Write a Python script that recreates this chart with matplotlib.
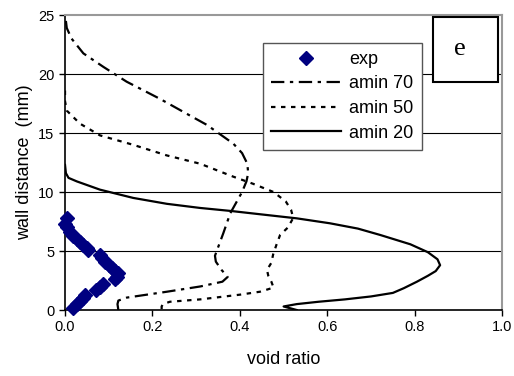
import numpy as np
import matplotlib
matplotlib.use("Agg")
import matplotlib.pyplot as plt
from matplotlib.patches import Rectangle

plt.rcParams['font.family'] = ['Liberation Sans', 'DejaVu Sans']

# Messpunkte (exp)
exp_x = [0.004, 0.0, 0.004, 0.011, 0.019, 0.027, 0.035, 0.042, 0.05, 0.053,
         0.08, 0.084, 0.092, 0.1, 0.107, 0.115, 0.122, 0.118, 0.114,
         0.088, 0.08, 0.072,
         0.046, 0.04, 0.034, 0.027, 0.019]
exp_y = [7.8, 7.25, 7.0, 6.6, 6.3, 6.05, 5.8, 5.5, 5.25, 5.1,
         4.7, 4.4, 4.1, 3.8, 3.55, 3.3, 3.1, 2.8, 2.6,
         2.2, 1.95, 1.7,
         1.3, 1.0, 0.75, 0.5, 0.2]

# amin 70
a70_x = [0.002, 0.004, 0.015, 0.042, 0.088, 0.141, 0.217, 0.28, 0.324, 0.385, 0.405,
         0.417, 0.419, 0.415, 0.405, 0.39, 0.378, 0.362, 0.35, 0.343, 0.345, 0.358,
         0.372, 0.36, 0.31, 0.233, 0.141, 0.122, 0.12, 0.122]
a70_y = [24.5, 23.9, 23.0, 21.75, 20.6, 19.35, 17.9, 16.6, 15.7, 14.1, 13.3,
         12.4, 11.6, 10.9, 10.0, 9.0, 8.2, 6.5, 5.3, 4.6, 4.1, 3.4,
         2.8, 2.4, 2.0, 1.55, 1.05, 0.8, 0.5, 0.0]

# amin 50
a50_x = [0.0, 0.0, 0.004, 0.034, 0.08, 0.156, 0.233, 0.309, 0.385, 0.43, 0.477,
         0.505, 0.517, 0.522, 0.51, 0.492, 0.484, 0.476, 0.472, 0.462, 0.465,
         0.472, 0.477, 0.446, 0.40, 0.309, 0.24, 0.224, 0.221, 0.221]
a50_y = [18.6, 17.7, 16.9, 15.8, 14.8, 14.0, 13.1, 12.4, 11.3, 10.7, 10.0,
         9.2, 8.5, 7.8, 7.0, 6.36, 5.57, 4.7, 4.0, 3.4, 2.9,
         2.4, 1.9, 1.55, 1.3, 0.9, 0.7, 0.5, 0.3, 0.0]

# amin 20
a20_x = [0.0, 0.002, 0.008, 0.027, 0.08, 0.156, 0.233, 0.309, 0.378, 0.45,
         0.53, 0.606, 0.67, 0.721, 0.79, 0.83, 0.852, 0.858, 0.848, 0.83,
         0.805, 0.775, 0.75, 0.70, 0.64, 0.58, 0.53, 0.50, 0.53]
a20_y = [12.3, 11.6, 11.2, 10.9, 10.2, 9.5, 9.0, 8.65, 8.4, 8.1,
         7.77, 7.35, 6.9, 6.36, 5.57, 4.9, 4.3, 3.8, 3.3, 2.9,
         2.4, 1.85, 1.45, 1.15, 0.9, 0.7, 0.5, 0.3, 0.0]

fig = plt.figure(figsize=(5.14, 3.76), dpi=100)
ax = fig.add_axes([0.1265, 0.1755, 0.8505, 0.7845])

# Gitterlinien
for yv in [5, 10, 15, 20]:
    ax.axhline(yv, color='k', lw=0.8, zorder=1)

ax.plot(exp_x, exp_y, linestyle='none', marker='D', markersize=7,
        color='#000080', label='exp', zorder=3, clip_on=False)
ax.plot(a70_x, a70_y, color='k', lw=1.6, linestyle=(0, (6, 2.5, 1.5, 2.5)),
        label='amin 70', zorder=2)
ax.plot(a50_x, a50_y, color='k', lw=1.6, linestyle=(0, (2, 2.5)),
        label='amin 50', zorder=2)
ax.plot(a20_x, a20_y, color='k', lw=1.6, linestyle='-',
        label='amin 20', zorder=2)

ax.set_xlim(0, 1.0)
ax.set_ylim(0, 25)
ax.set_xticks(np.arange(0, 1.01, 0.2))
ax.set_xticklabels(['0.0', '0.2', '0.4', '0.6', '0.8', '1.0'])
ax.set_yticks([0, 5, 10, 15, 20, 25])
ax.tick_params(direction='out', length=4, labelsize=10.5, width=1)

for s in ['top', 'right']:
    ax.spines[s].set_color('#999999')
    ax.spines[s].set_linewidth(1.5)
for s in ['left', 'bottom']:
    ax.spines[s].set_color('k')
    ax.spines[s].set_linewidth(1.2)

ax.set_xlabel('void ratio', fontsize=13, labelpad=12)
ax.set_ylabel('wall distance  (mm)', fontsize=13, labelpad=4)

leg = ax.legend(loc='upper left', bbox_to_anchor=(0.452, 0.906), borderaxespad=0,
                fontsize=13, fancybox=False, framealpha=1, edgecolor='#555555',
                handlelength=3.9, handletextpad=0.45, labelspacing=0.42,
                borderpad=0.45)
leg.get_frame().set_linewidth(1.0)

# Kasten mit "e"
ax.add_patch(Rectangle((0.842, 0.773), 0.149, 0.22, transform=ax.transAxes,
                       facecolor='white', edgecolor='k', lw=1.5, zorder=5,
                       clip_on=False))
ax.text(0.904, 0.864, 'e', transform=ax.transAxes, ha='center', va='baseline',
        fontsize=19, family='Liberation Serif', zorder=6)

fig.savefig('out.png', dpi=100)
